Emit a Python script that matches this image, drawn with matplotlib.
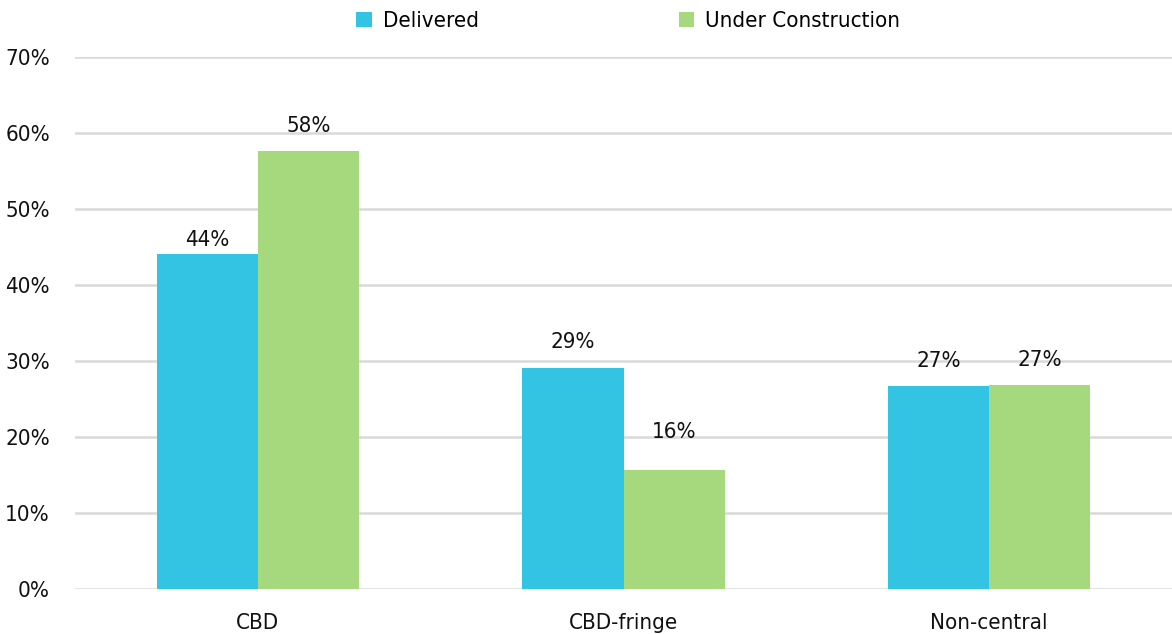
import matplotlib
matplotlib.use("Agg")
import matplotlib.pyplot as plt
import numpy as np

categories = ["CBD", "CBD-fringe", "Non-central"]
delivered = [44.1, 29.1, 26.7]
under_construction = [57.6, 15.6, 26.8]
series_names = ["Delivered", "Under Construction"]
yticks = [0, 10, 20, 30, 40, 50, 60, 70]

# label gap above each bar (points), as hand-placed in the original
delivered_offsets = [6, 14, 14]
uc_offsets = [14, 23, 14]

colors = ["#33C3E3", "#A6D87E"]
plt.rcParams["font.family"] = ["DejaVu Sans"]
plt.rcParams["font.stretch"] = "condensed"

fig = plt.figure(figsize=(11.72, 6.34), dpi=100)
ax = fig.add_axes([0.064, 0.071, 0.936, 0.839])

x = np.arange(len(categories))
w = 0.277
b1 = ax.bar(x - w / 2, delivered, w, color=colors[0], label=series_names[0], zorder=3)
b2 = ax.bar(x + w / 2, under_construction, w, color=colors[1], label=series_names[1], zorder=3)

for bars, vals, offs in [(b1, delivered, delivered_offsets), (b2, under_construction, uc_offsets)]:
    for r, v, o in zip(bars, vals, offs):
        ax.annotate(f"{v:.0f}%", (r.get_x() + r.get_width() / 2, v),
                    xytext=(0, o), textcoords="offset points",
                    ha="center", va="baseline", fontsize=16, color="#111111")

ax.set_xlim(-0.5, 2.5)
ax.set_ylim(0, 70)
ax.set_yticks(yticks)
ax.set_yticklabels([f"{t}%" for t in yticks])
ax.set_xticks(x)
ax.set_xticklabels(categories)
ax.tick_params(axis="both", length=0, labelsize=16, colors="#111111")
ax.tick_params(axis="x", pad=17)
ax.tick_params(axis="y", pad=18)

ax.grid(axis="y", color="#D9D9D9", linewidth=1.8, zorder=0)
for s in ["top", "right", "left", "bottom"]:
    ax.spines[s].set_visible(False)

fig.legend(loc="upper center", bbox_to_anchor=(0.536, 1.014), ncol=2, frameon=False,
           fontsize=16, handlelength=0.7, handleheight=0.7, handletextpad=0.5,
           columnspacing=9)

fig.savefig("out.png", dpi=100)
